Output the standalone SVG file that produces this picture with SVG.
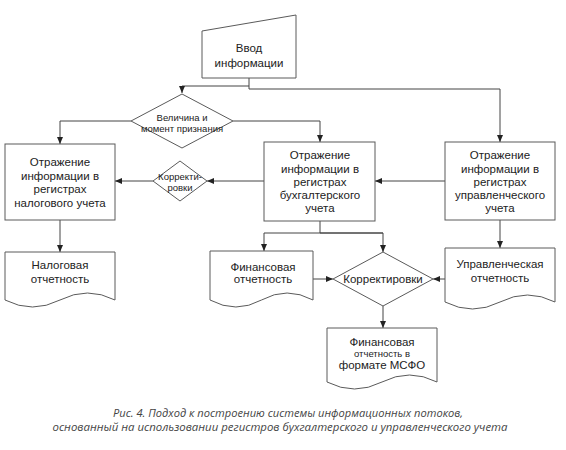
<svg xmlns="http://www.w3.org/2000/svg" width="566" height="450" viewBox="0 0 566 450">
<style>
.shape{fill:#fff;stroke:#5a5a5a;stroke-width:1}
.t{font-family:"Liberation Sans",Arial,sans-serif;font-size:11.5px;fill:#222;text-anchor:middle}
.s{font-size:9.5px}
.c{fill:none;stroke:#444;stroke-width:1}
.cap{font-family:"Open Sans","Liberation Sans",sans-serif;font-style:italic;font-size:11px;fill:#444;text-anchor:middle}
</style>
<defs>
<marker id="ar" markerUnits="userSpaceOnUse" markerWidth="7" markerHeight="6" refX="7" refY="3" orient="auto">
<path d="M0,0 L7,3 L0,6 z" fill="#222"/>
</marker>
</defs>
<rect width="566" height="450" fill="#fff"/>
<g id="connectors" class="c">
<path d="M249,78 V89"/>
<path d="M249,86 H182 V93" marker-end="url(#ar)"/>
<path d="M249,89 H500 V142" marker-end="url(#ar)"/>
<path d="M131,121 H60 V144" marker-end="url(#ar)"/>
<path d="M233,121 H320 V142" marker-end="url(#ar)"/>
<path d="M264,181 H207" marker-end="url(#ar)"/>
<path d="M153,181 H115" marker-end="url(#ar)"/>
<path d="M445,181 H375" marker-end="url(#ar)"/>
<path d="M60,220 V252" marker-end="url(#ar)"/>
<path d="M320,221 V233"/>
<path d="M383,233 H264 V251" marker-end="url(#ar)"/>
<path d="M320,233 H383 V252" marker-end="url(#ar)"/>
<path d="M313,279 H333" marker-end="url(#ar)"/>
<path d="M445,279 H433" marker-end="url(#ar)"/>
<path d="M500,220 V248" marker-end="url(#ar)"/>
<path d="M383,306 V328" marker-end="url(#ar)"/>
</g>
<g id="input">
<polygon class="shape" points="202,31 296,15 296,78 202,78"/>
<text class="t" x="249" y="52">Ввод</text>
<text class="t" x="249" y="67">информации</text>
</g>
<g id="decision1">
<polygon class="shape" points="182,94 233,121 182,148 131,121"/>
<text class="t s" x="182" y="121">Величина и</text>
<text class="t s" x="182" y="132">момент признания</text>
</g>
<g id="tax-registers">
<rect class="shape" x="5" y="144" width="110" height="76"/>
<text class="t" x="60" y="166">Отражение</text>
<text class="t" x="60" y="179.5">информации в</text>
<text class="t" x="60" y="193">регистрах</text>
<text class="t" x="60" y="206.5">налогового учета</text>
</g>
<g id="adjust-small">
<polygon class="shape" points="180,161 207,181 180,201 153,181"/>
<text class="t s" x="180" y="180">Корректи-</text>
<text class="t s" x="180" y="191">ровки</text>
</g>
<g id="accounting-registers">
<rect class="shape" x="264" y="142" width="111" height="79"/>
<text class="t" x="320" y="159">Отражение</text>
<text class="t" x="320" y="172.5">информации в</text>
<text class="t" x="320" y="186">регистрах</text>
<text class="t" x="320" y="199">бухгалтерского</text>
<text class="t" x="320" y="212">учета</text>
</g>
<g id="management-registers">
<rect class="shape" x="445" y="142" width="110" height="78"/>
<text class="t" x="500" y="159">Отражение</text>
<text class="t" x="500" y="172.5">информации в</text>
<text class="t" x="500" y="186">регистрах</text>
<text class="t" x="500" y="199">управленческого</text>
<text class="t" x="500" y="212">учета</text>
</g>
<g id="tax-report">
<path class="shape" d="M5,252 H115 V300 Q87.5,286 60,300 Q32.5,314 5,300 Z"/>
<text class="t" x="60" y="269">Налоговая</text>
<text class="t" x="60" y="283">отчетность</text>
</g>
<g id="fin-report">
<path class="shape" d="M210,251 H313 V300 Q287,286 261.5,300 Q236,314 210,300 Z"/>
<text class="t" x="263" y="271">Финансовая</text>
<text class="t" x="263" y="283">отчетность</text>
</g>
<g id="adjustments">
<polygon class="shape" points="383,252 433,279 383,306 333,279"/>
<text class="t" x="383" y="283">Корректировки</text>
</g>
<g id="mgmt-report">
<path class="shape" d="M445,248 H555 V302 Q527.5,288 500,302 Q472.5,316 445,302 Z"/>
<text class="t" x="500" y="268">Управленческая</text>
<text class="t" x="500" y="282">отчетность</text>
</g>
<g id="ifrs-report">
<path class="shape" d="M327,328 H437 V382 Q409.5,368 382,382 Q354.5,396 327,382 Z"/>
<text class="t" x="382" y="346">Финансовая</text>
<text class="t" x="382" y="357" style="font-size:9.5px">отчетность в</text>
<text class="t" x="382" y="369">формате МСФО</text>
</g>
<g id="caption">
<text class="cap" x="288" y="417" textLength="350" lengthAdjust="spacingAndGlyphs">Рис. 4. Подход к построению системы информационных потоков,</text>
<text class="cap" x="280" y="431" textLength="455" lengthAdjust="spacingAndGlyphs">основанный на использовании регистров бухгалтерского и управленческого учета</text>
</g>
</svg>
